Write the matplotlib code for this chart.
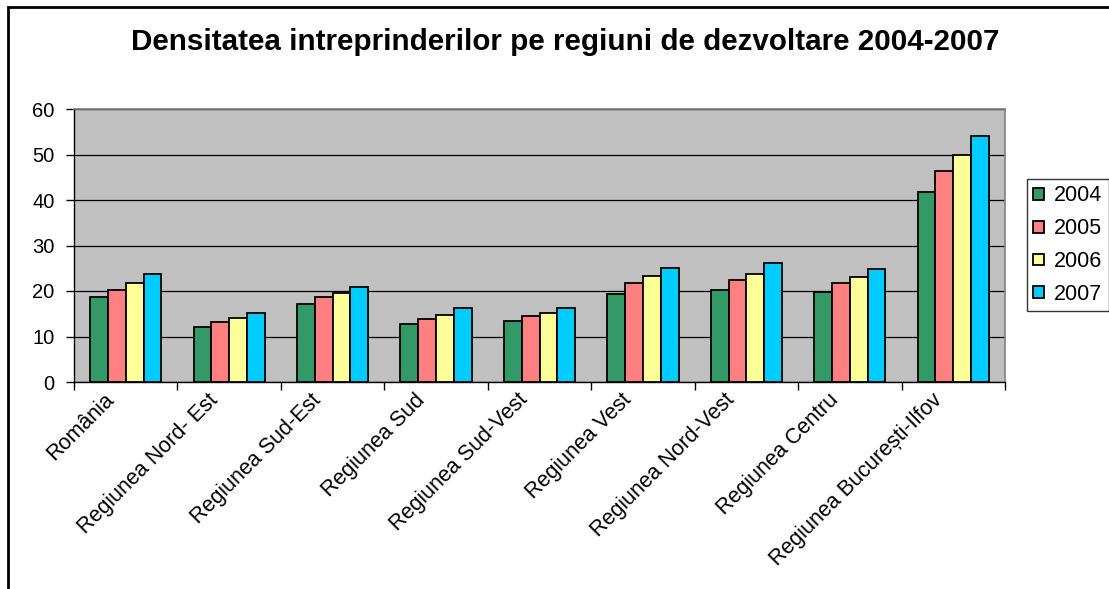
import matplotlib
matplotlib.use("Agg")
import matplotlib.pyplot as plt
import matplotlib.transforms as mtransforms
from matplotlib.patches import Rectangle
import numpy as np

categories = ["România", "Regiunea Nord- Est", "Regiunea Sud-Est", "Regiunea Sud",
              "Regiunea Sud-Vest", "Regiunea Vest", "Regiunea Nord-Vest",
              "Regiunea Centru", "Regiunea București-Ilfov"]
years = ["2004", "2005", "2006", "2007"]
v2004 = [18.6, 12.1, 17.2, 12.7, 13.5, 19.3, 20.3, 19.7, 41.7]
v2005 = [20.3, 13.1, 18.6, 13.8, 14.4, 21.7, 22.4, 21.7, 46.4]
v2006 = [21.7, 14.1, 19.6, 14.8, 15.1, 23.4, 23.8, 23.1, 49.9]
v2007 = [23.7, 15.1, 20.9, 16.2, 16.2, 25.1, 26.2, 24.8, 54.1]
series = [v2004, v2005, v2006, v2007]
yticks = [0, 10, 20, 30, 40, 50, 60]
title = "Densitatea intreprinderilor pe regiuni de dezvoltare 2004-2007"

colors = ["#339966", "#FF8080", "#FFFF99", "#00CCFF"]

plt.rcParams['font.family'] = ['Liberation Sans', 'DejaVu Sans']

W, H = 1109, 589
fig = plt.figure(figsize=(W / 100, H / 100), dpi=100)
fig.patch.set_facecolor("white")

ax = fig.add_axes([74 / W, 1 - 382 / H, (1005 - 74) / W, (382 - 109) / H])
ax.set_facecolor("#C0C0C0")

x = np.arange(len(categories))
bw = 0.172
for i, (vals, c, yr) in enumerate(zip(series, colors, years)):
    ax.bar(x + (i - 1.5) * bw, vals, width=bw, color=c, edgecolor="black",
           linewidth=1.3, label=yr, zorder=3)

ax.set_xlim(-0.5, len(categories) - 0.5)
ax.set_ylim(0, 60)
ax.set_yticks(yticks)
ax.yaxis.grid(True, color="black", linewidth=0.9, zorder=1)
ax.set_axisbelow(True)

# ticks at category boundaries, labels at centers
ax.set_xticks(np.arange(-0.5, len(categories) + 0.5, 1.0))
ax.set_xticklabels([])
ax.set_xticks(x, minor=True)
ax.set_xticklabels(categories, minor=True, rotation=45, ha="right", va="top",
                   rotation_mode="anchor", fontsize=15.5)
ax.tick_params(axis="x", which="major", length=6, width=1, direction="out", color="black")
ax.tick_params(axis="x", which="minor", length=0, pad=5.5)
ax.tick_params(axis="y", length=6, width=1, direction="out", pad=8, labelsize=14.5)

offset = mtransforms.ScaledTranslation(-0.22, 0.0, fig.dpi_scale_trans)
for lbl in ax.get_xticklabels(minor=True):
    lbl.set_transform(lbl.get_transform() + offset)

for s in ["top", "right"]:
    ax.spines[s].set_color("#808080")
    ax.spines[s].set_linewidth(1.2)
for s in ["left", "bottom"]:
    ax.spines[s].set_color("black")
    ax.spines[s].set_linewidth(1.0)

fig.text(565.5 / W, 1 - 49.5 / H, title, ha="center", va="baseline",
         fontsize=21.3, fontweight="bold")

leg = ax.legend(loc="upper left", bbox_to_anchor=(1027 / W, 1 - 179 / H),
                bbox_transform=fig.transFigure, fontsize=15.5, frameon=True,
                fancybox=False, edgecolor="black", handlelength=0.47,
                handleheight=0.47, handletextpad=0.5, labelspacing=0.55,
                borderpad=0.3, borderaxespad=0)
leg.get_frame().set_linewidth(1.0)

# outer chart frame
fig.patches.append(Rectangle((7.5 / W, -0.1), 1.2, 1.1 - 6.5 / H,
                             transform=fig.transFigure, fill=False,
                             edgecolor="black", linewidth=2, zorder=10))

fig.savefig("out.png", dpi=100)
